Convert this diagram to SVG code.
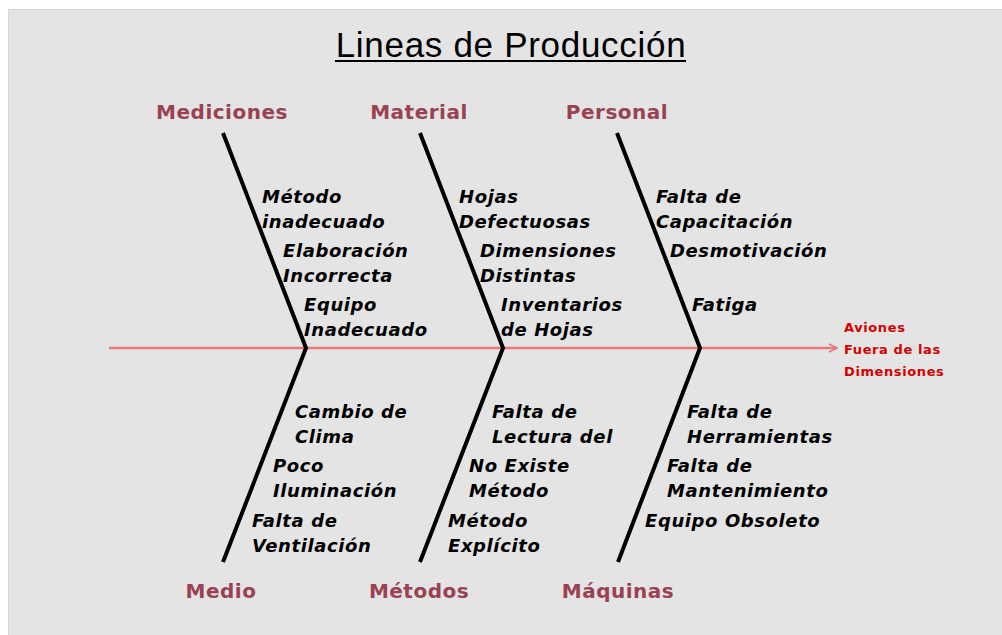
<svg xmlns="http://www.w3.org/2000/svg" width="1002" height="635" viewBox="0 0 1002 635">
<defs>
<style>
.title{font-family:"Liberation Sans",Arial,sans-serif;font-size:35px;fill:#000;letter-spacing:0.7px}
.cat{font-family:"DejaVu Sans",Verdana,sans-serif;font-weight:bold;font-size:20px;fill:#9a4251;letter-spacing:0.5px;text-anchor:middle}
.item{font-family:"DejaVu Sans",Verdana,sans-serif;font-weight:bold;font-style:italic;font-size:18px;fill:#000;letter-spacing:0.6px}
.eff{font-family:"DejaVu Sans",Verdana,sans-serif;font-weight:bold;font-size:13px;fill:#d40000;letter-spacing:0.6px}
.bone{stroke:#000;stroke-width:4;fill:none;stroke-linecap:butt;stroke-linejoin:miter}
.spine{stroke:#e77a7a;stroke-width:2.5;fill:none}
</style>
<marker id="arr" viewBox="0 0 10 10" refX="9" refY="5" markerWidth="4" markerHeight="4" orient="auto" markerUnits="strokeWidth">
<path d="M1,1 L9,5 L1,9" fill="none" stroke="#e77a7a" stroke-width="1.6"/>
</marker>
</defs>
<rect x="0" y="0" width="1002" height="635" fill="#ffffff"/>
<rect x="8" y="9" width="994" height="626" fill="#e4e4e4"/>
<line x1="8" y1="9.5" x2="1002" y2="9.5" stroke="#d6d6d6" stroke-width="1"/>
<line x1="8.5" y1="9" x2="8.5" y2="635" stroke="#d6d6d6" stroke-width="1"/>
<g id="title">
<text class="title" x="511" y="57" text-anchor="middle">Lineas de Producción</text>
<line x1="335" y1="61" x2="686" y2="61" stroke="#000" stroke-width="2"/>
</g>
<g id="connectors">
<line class="spine" x1="109" y1="348" x2="837" y2="348" marker-end="url(#arr)"/>
<polyline class="bone" points="223,133 306,348 223,562"/>
<polyline class="bone" points="420,133 503,348 420,562"/>
<polyline class="bone" points="617,133 700,348 618,562"/>
</g>
<g id="effect">
<text class="eff" x="844" y="332">Aviones</text>
<text class="eff" x="844" y="354">Fuera de las</text>
<text class="eff" x="844" y="376">Dimensiones</text>
</g>
<g id="mediciones">
<text class="cat" x="222" y="119">Mediciones</text>
<text class="item" x="262" y="203">Método</text>
<text class="item" x="262" y="228">inadecuado</text>
<text class="item" x="283" y="257">Elaboración</text>
<text class="item" x="283" y="282">Incorrecta</text>
<text class="item" x="304" y="311">Equipo</text>
<text class="item" x="304" y="336">Inadecuado</text>
</g>
<g id="material">
<text class="cat" x="419" y="119">Material</text>
<text class="item" x="459" y="203">Hojas</text>
<text class="item" x="459" y="228">Defectuosas</text>
<text class="item" x="480" y="257">Dimensiones</text>
<text class="item" x="480" y="282">Distintas</text>
<text class="item" x="501" y="311">Inventarios</text>
<text class="item" x="501" y="336">de Hojas</text>
</g>
<g id="personal">
<text class="cat" x="617" y="119">Personal</text>
<text class="item" x="656" y="203">Falta de</text>
<text class="item" x="656" y="228">Capacitación</text>
<text class="item" x="670" y="257">Desmotivación</text>
<text class="item" x="692" y="311">Fatiga</text>
</g>
<g id="medio">
<text class="cat" x="221" y="598">Medio</text>
<text class="item" x="295" y="418">Cambio de</text>
<text class="item" x="295" y="443">Clima</text>
<text class="item" x="273" y="472">Poco</text>
<text class="item" x="273" y="497">Iluminación</text>
<text class="item" x="252" y="527">Falta de</text>
<text class="item" x="252" y="552">Ventilación</text>
</g>
<g id="metodos">
<text class="cat" x="419" y="598">Métodos</text>
<text class="item" x="492" y="418">Falta de</text>
<text class="item" x="492" y="443">Lectura del</text>
<text class="item" x="469" y="472">No Existe</text>
<text class="item" x="469" y="497">Método</text>
<text class="item" x="448" y="527">Método</text>
<text class="item" x="448" y="552">Explícito</text>
</g>
<g id="maquinas">
<text class="cat" x="618" y="598">Máquinas</text>
<text class="item" x="687" y="418">Falta de</text>
<text class="item" x="687" y="443">Herramientas</text>
<text class="item" x="667" y="472">Falta de</text>
<text class="item" x="667" y="497">Mantenimiento</text>
<text class="item" x="645" y="527">Equipo Obsoleto</text>
</g>
</svg>
